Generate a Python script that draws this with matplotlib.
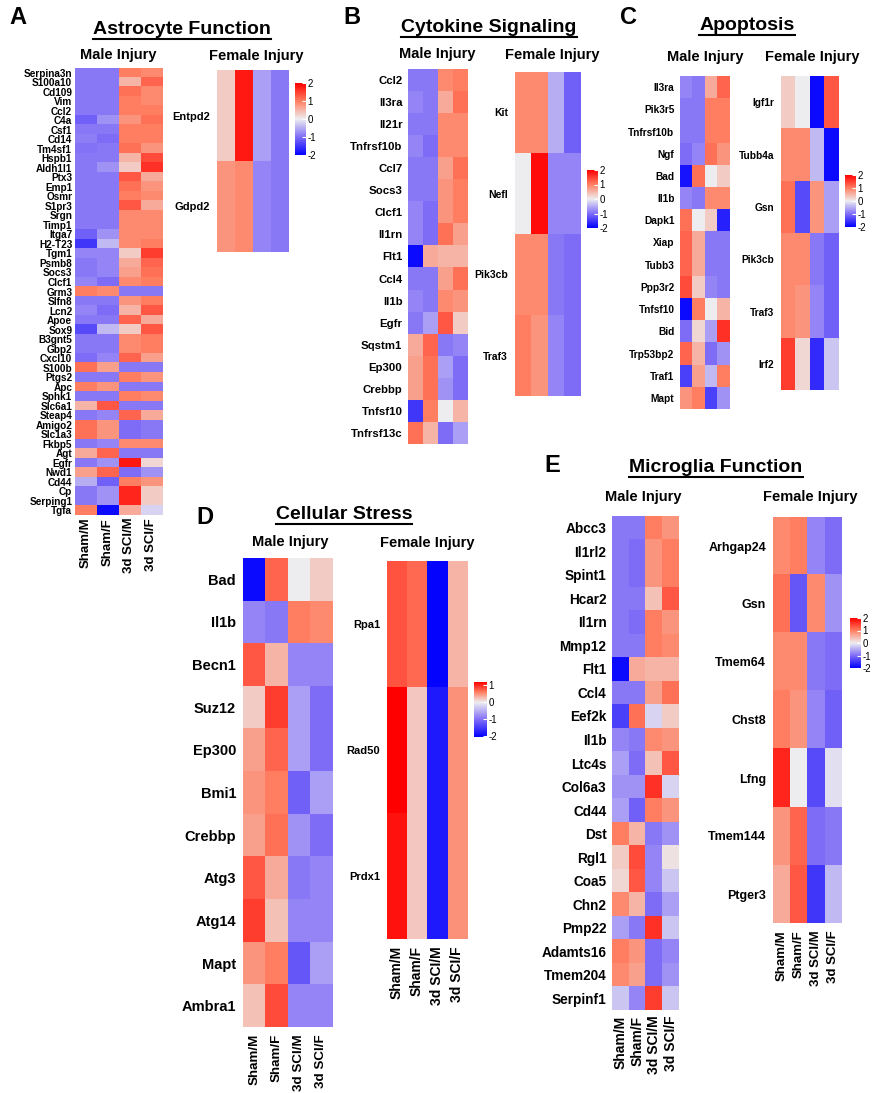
import numpy as np
import matplotlib
matplotlib.use("Agg")
import matplotlib.pyplot as plt
from matplotlib.colors import LinearSegmentedColormap, Normalize
from matplotlib.cm import ScalarMappable
from matplotlib.lines import Line2D

plt.rcParams['font.family'] = ['Liberation Sans', 'DejaVu Sans']
plt.rcParams['axes.unicode_minus'] = False

conds = ["Sham/M", "Sham/F", "3d SCI/M", "3d SCI/F"]

# ---- A: astrocyte function ----
astro_genes = ["Serpina3n", "S100a10", "Cd109", "Vim", "Ccl2", "C4a", "Csf1", "Cd14",
               "Tm4sf1", "Hspb1", "Aldh1l1", "Ptx3", "Emp1", "Osmr", "S1pr3", "Srgn",
               "Timp1", "Itga7", "H2-T23", "Tgm1", "Psmb8", "Socs3", "Clcf1", "Grm3",
               "Slfn8", "Lcn2", "Apoe", "Sox9", "B3gnt5", "Gbp2", "Cxcl10", "S100b",
               "Ptgs2", "Apc", "Sphk1", "Slc6a1", "Steap4", "Amigo2", "Slc1a3", "Fkbp5",
               "Agt", "Egfr", "Nwd1", "Cd44", "Cp", "Serping1", "Tgfa"]
astro_male = [
    [-0.9, -0.9, 1.0, 0.9], [-0.9, -0.9, 0.5, 1.2], [-0.9, -0.9, 1.1, 0.9],
    [-0.9, -0.9, 1.0, 0.9], [-0.9, -0.9, 1.0, 1.0], [-1.1, -0.7, 0.8, 1.1],
    [-0.9, -0.9, 1.0, 1.0], [-0.85, -1.0, 1.0, 1.0], [-0.95, -0.9, 1.1, 0.8],
    [-0.9, -0.9, 0.5, 1.4], [-0.9, -0.7, 0.3, 1.6], [-0.9, -0.9, 1.3, 0.6],
    [-0.9, -0.9, 1.1, 0.8], [-0.9, -0.9, 1.0, 0.9], [-0.9, -0.9, 1.3, 0.6],
    [-0.9, -0.9, 0.9, 0.9], [-0.9, -0.9, 0.9, 0.9], [-1.1, -0.7, 0.9, 0.9],
    [-1.5, -0.4, 0.9, 1.0], [-0.8, -0.8, 0.3, 1.5], [-0.9, -0.8, 0.6, 1.2],
    [-0.9, -0.8, 0.7, 1.1], [-0.8, -1.0, 0.9, 1.0], [1.0, 0.9, -0.9, -0.9],
    [-0.9, -0.9, 0.8, 1.0], [-0.8, -1.0, 0.5, 1.3], [-0.9, -0.9, 1.2, 0.6],
    [-1.3, -0.4, 0.3, 1.3], [-0.9, -0.9, 0.9, 1.0], [-0.9, -0.9, 0.9, 1.0],
    [-1.0, -0.8, 1.2, 0.7], [1.1, 0.7, -0.9, -0.9], [-0.9, -0.9, 1.0, 0.8],
    [1.0, 0.8, -0.9, -0.9], [-0.9, -0.9, 1.0, 0.9], [0.5, 1.3, -0.9, -0.9],
    [-0.9, -0.8, 1.2, 0.6], [1.1, 0.8, -1.0, -0.9], [1.1, 0.8, -1.0, -0.9],
    [-0.9, -0.8, 0.9, 0.9], [0.6, 1.2, -0.9, -0.9], [-0.9, -0.7, 1.8, 0.2],
    [0.7, 1.2, -1.0, -0.7], [-0.5, -1.1, 1.0, 0.8], [-0.9, -0.7, 1.7, 0.3],
    [-0.9, -0.7, 1.7, 0.3], [1.0, -1.9, 0.6, -0.2]]
astro_fem_genes = ["Entpd2", "Gdpd2"]
astro_fem = [[0.3, 1.8, -0.6, -0.9], [0.8, 0.9, -0.8, -0.9]]

# ---- B: cytokine signaling ----
cyto_genes = ["Ccl2", "Il3ra", "Il21r", "Tnfrsf10b", "Ccl7", "Socs3", "Clcf1", "Il1rn",
              "Flt1", "Ccl4", "Il1b", "Egfr", "Sqstm1", "Ep300", "Crebbp", "Tnfsf10",
              "Tnfrsf13c"]
cyto_male = [
    [-0.9, -0.9, 0.9, 1.0], [-0.8, -0.9, 0.6, 1.1], [-0.9, -0.9, 0.9, 0.9],
    [-0.8, -1.0, 0.9, 0.9], [-0.9, -0.9, 0.7, 1.1], [-0.9, -0.9, 0.8, 1.0],
    [-0.8, -1.0, 0.8, 1.0], [-0.8, -1.0, 1.1, 0.7], [-1.9, 0.6, 0.5, 0.5],
    [-0.9, -0.9, 0.7, 1.1], [-0.8, -0.9, 0.9, 0.8], [-0.9, -0.6, 1.3, 0.3],
    [0.6, 1.2, -0.9, -0.8], [0.7, 1.1, -0.6, -1.0], [0.7, 1.1, -0.7, -1.0],
    [-1.5, 1.0, 0.0, 0.5], [1.1, 0.5, -1.0, -0.6]]
cyto_fem_genes = ["Kit", "Nefl", "Pik3cb", "Traf3"]
cyto_fem = [[0.9, 0.9, -0.5, -1.1], [0.0, 1.9, -0.8, -0.8],
            [0.9, 0.9, -0.9, -1.0], [1.0, 0.8, -0.8, -1.0]]

# ---- C: apoptosis ----
apop_genes = ["Il3ra", "Pik3r5", "Tnfrsf10b", "Ngf", "Bad", "Il1b", "Dapk1", "Xiap",
              "Tubb3", "Ppp3r2", "Tnfsf10", "Bid", "Trp53bp2", "Traf1", "Mapt"]
apop_male = [
    [-0.8, -0.9, 0.6, 1.2], [-0.9, -0.9, 1.0, 1.0], [-0.9, -0.9, 1.0, 1.0],
    [-1.0, -0.8, 1.1, 0.8], [-1.8, 1.1, 0.0, 0.3], [-0.8, -0.9, 0.9, 0.9],
    [1.1, 0.0, 0.3, -1.7], [1.2, 0.6, -0.9, -0.9], [1.2, 0.6, -0.9, -0.9],
    [1.4, 0.3, -0.8, -0.9], [-1.9, 1.0, 0.0, 0.5], [-1.0, 0.2, -0.6, 1.6],
    [1.2, 0.5, -1.0, -0.7], [-1.4, 0.7, -0.4, 1.0], [0.8, 1.0, -1.4, -0.7]]
apop_fem_genes = ["Igf1r", "Tubb4a", "Gsn", "Pik3cb", "Traf3", "Irf2"]
apop_fem = [[0.3, 0.0, -1.9, 1.3], [0.9, 0.9, -0.4, -1.9], [1.1, -1.3, 0.8, -0.6],
            [0.9, 0.9, -0.9, -1.1], [0.9, 0.8, -0.8, -1.1], [1.5, 0.2, -1.6, -0.3]]

# ---- D: cellular stress ----
stress_genes = ["Bad", "Il1b", "Becn1", "Suz12", "Ep300", "Bmi1", "Crebbp", "Atg3",
                "Atg14", "Mapt", "Ambra1"]
stress_male = [
    [-1.9, 1.2, 0.0, 0.3], [-0.8, -0.9, 1.0, 0.9], [1.3, 0.5, -0.8, -0.8],
    [0.3, 1.5, -0.6, -1.0], [0.7, 1.2, -0.6, -1.0], [0.8, 1.0, -1.1, -0.6],
    [0.7, 1.1, -0.7, -1.0], [1.3, 0.6, -0.9, -0.8], [1.5, 0.4, -0.8, -0.8],
    [0.8, 1.0, -1.2, -0.6], [0.4, 1.4, -0.8, -0.8]]
stress_fem_genes = ["Rpa1", "Rad50", "Prdx1"]
stress_fem = [[0.8, 0.7, -2.0, 0.3], [1.2, 0.2, -1.8, 0.5], [1.1, 0.2, -1.8, 0.5]]

# ---- E: microglia function ----
micro_genes = ["Abcc3", "Il1rl2", "Spint1", "Hcar2", "Il1rn", "Mmp12", "Flt1", "Ccl4",
               "Eef2k", "Il1b", "Ltc4s", "Col6a3", "Cd44", "Dst", "Rgl1", "Coa5", "Chn2",
               "Pmp22", "Adamts16", "Tmem204", "Serpinf1"]
micro_male = [
    [-0.9, -0.9, 1.0, 0.8], [-0.9, -1.0, 0.8, 1.0], [-0.9, -1.0, 0.8, 1.0],
    [-0.9, -0.9, 0.4, 1.3], [-0.9, -1.0, 1.0, 0.8], [-0.9, -0.9, 1.0, 0.9],
    [-1.9, 0.6, 0.5, 0.5], [-0.9, -0.9, 0.7, 1.1], [-1.4, 1.1, -0.2, 0.3],
    [-0.8, -0.9, 0.9, 0.8], [-0.6, -1.0, 0.4, 1.3], [-0.7, -0.7, 1.6, -0.2],
    [-0.6, -1.1, 1.0, 0.8], [1.0, 0.5, -0.9, -0.7], [0.3, 1.4, -0.8, 0.1],
    [0.2, 1.3, -0.8, -0.3], [0.9, 0.5, -1.0, -0.6], [-0.6, -0.9, 1.6, -0.3],
    [1.0, 0.8, -1.0, -0.8], [0.9, 0.7, -1.0, -0.7], [-0.3, -0.8, 1.5, -0.3]]
micro_fem_genes = ["Arhgap24", "Gsn", "Tmem64", "Chst8", "Lfng", "Tmem144", "Ptger3"]
micro_fem = [[0.9, 1.0, -0.8, -1.0], [1.1, -1.2, 0.9, -0.7], [0.9, 0.9, -0.9, -1.0],
             [1.0, 0.8, -0.8, -1.1], [1.7, 0.0, -1.3, -0.1], [0.8, 1.2, -1.0, -0.9],
             [0.6, 1.3, -1.5, -0.4]]

W, H = 872, 1093
fig = plt.figure(figsize=(W / 100, H / 100), dpi=100)


def box(x0, y0, x1, y1):
    return [x0 / W, 1 - y1 / H, (x1 - x0) / W, (y1 - y0) / H]


def make_cmap(vmin, vmax):
    stops = [(vmin, '#0000FF'), (vmin / 2, '#7F6CF7'), (0, '#EDEDF0'),
             (vmax / 2, '#FF7F62'), (vmax, '#FF0000')]
    return LinearSegmentedColormap.from_list(
        'bwr2', [((v - vmin) / (vmax - vmin), c) for v, c in stops])


cm_std = make_cmap(-2, 2)
norm_std = Normalize(-2, 2)


def heat(rect, genes, vals, fs, cfs=None, cmap=cm_std, norm=norm_std, pad=2):
    ax = fig.add_axes(box(*rect))
    ax.imshow(np.array(vals), cmap=cmap, norm=norm, aspect='auto', interpolation='nearest')
    ax.set_yticks(range(len(genes)))
    ax.set_yticklabels(genes, fontsize=fs, fontweight='bold')
    ax.tick_params(length=0, pad=pad)
    if cfs:
        ax.set_xticks(range(4))
        ax.set_xticklabels(conds, rotation=90, fontsize=cfs, fontweight='bold')
    else:
        ax.set_xticks([])
    for s in ax.spines.values():
        s.set_visible(False)
    return ax


def cbar(rect, ticks, cmap=cm_std, norm=norm_std):
    cax = fig.add_axes(box(*rect))
    cb = fig.colorbar(ScalarMappable(norm=norm, cmap=cmap), cax=cax, ticks=ticks)
    cb.outline.set_visible(False)
    cax.tick_params(labelsize=7, length=3, width=0.8, color='white', direction='in', pad=1)


def label(x, y, s, fs, **kw):
    return fig.text(x / W, 1 - y / H, s, fontsize=fs, fontweight='bold',
                    ha='center', va='center', **kw)


# panel A
heat((75, 68, 162, 515), astro_genes, astro_male, 7.2, cfs=9.5, pad=2)
heat((217, 70, 288, 252), astro_fem_genes, astro_fem, 8, pad=5)
cbar((295, 83, 306, 155), [-2, -1, 0, 1, 2])

# panel B
heat((408, 69, 467, 444), cyto_genes, cyto_male, 8.2, pad=4)
heat((515, 72, 581, 396), cyto_fem_genes, cyto_fem, 7.5, pad=5)
cbar((587, 170, 598, 228), [-2, -1, 0, 1, 2])

# panel C
heat((680, 76, 730, 409), apop_genes, apop_male, 7.3, pad=4)
heat((781, 76, 839, 390), apop_fem_genes, apop_fem, 7.3, pad=5)
cbar((845, 175, 856, 227), [-2, -1, 0, 1, 2])

# panel D
heat((243, 558, 332, 1027), stress_genes, stress_male, 10.5, cfs=9.6, pad=5)
cm_d = make_cmap(-2.05, 1.2)
norm_d = Normalize(-2.05, 1.2)
heat((387, 561, 467, 939), stress_fem_genes, stress_fem, 8, cfs=10, cmap=cm_d, norm=norm_d, pad=5)
cbar((474, 682, 487, 737), [-2, -1, 0, 1], cmap=cm_d, norm=norm_d)

# panel E
heat((612, 516, 679, 1010), micro_genes, micro_male, 9.8, cfs=10, pad=4)
heat((773, 517, 842, 923), micro_fem_genes, micro_fem, 9, cfs=9.5, pad=5)
cbar((850, 618, 861, 668), [-2, -1, 0, 1, 2])

# group labels
for x, y, s in [(118, 55, "Male Injury"), (256, 56, "Female Injury"),
                (437, 54, "Male Injury"), (552, 55, "Female Injury"),
                (705, 57, "Male Injury"), (812, 57, "Female Injury"),
                (290, 542, "Male Injury"), (427, 543, "Female Injury"),
                (643, 497, "Male Injury"), (810, 497, "Female Injury")]:
    label(x, y, s, 10.5)

for x, y, s in [(18, 18, "A"), (352, 18, "B"), (628, 18, "C"), (205, 518, "D"), (552, 466, "E")]:
    label(x, y, s, 17)

titles = [label(x, y, s, 14) for x, y, s in [(182, 29, "Astrocyte Function"),
                                              (489, 27, "Cytokine Signaling"),
                                              (747, 25, "Apoptosis"),
                                              (344, 514, "Cellular Stress"),
                                              (716, 467, "Microglia Function")]]

# underline the panel titles
fig.canvas.draw()
r = fig.canvas.get_renderer()
for t in titles:
    bb = t.get_window_extent(r)
    yl = (bb.y0 - 1) / H
    fig.add_artist(Line2D([bb.x0 / W, bb.x1 / W], [yl, yl], color='black',
                          lw=1.5, transform=fig.transFigure))

fig.savefig("out.png", dpi=100)
